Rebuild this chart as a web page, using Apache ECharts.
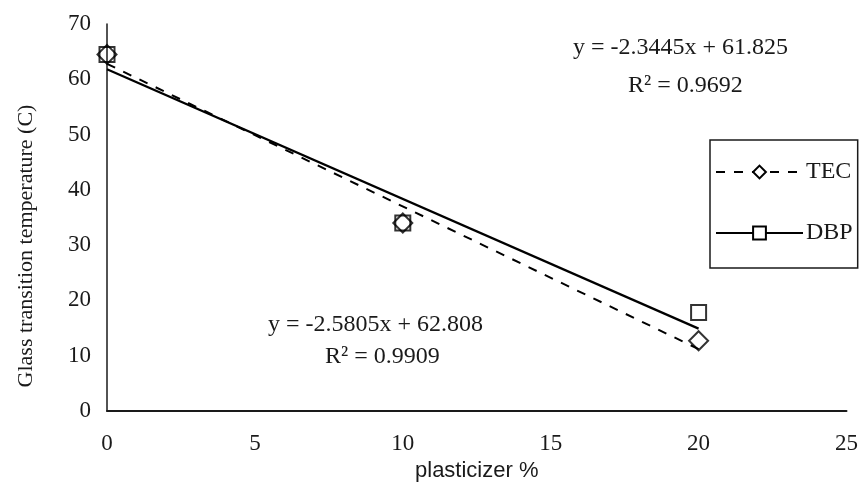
<!DOCTYPE html>
<html>
<head>
<meta charset="utf-8">
<script src="https://cdn.jsdelivr.net/npm/echarts@6/dist/echarts.min.js"></script>
<style>html,body{margin:0;padding:0;background:#fff}#c{width:861px;height:489px}</style>
</head>
<body>
<div id="c"></div>
<script>
// Data
const xValues = [0, 10, 20];
const tecValues = [64.5, 34, 12.7];
const dbpValues = [64.5, 34, 17.8];
const trendX = [0, 20];
const tecTrend = [62.8, 11.2];
const dbpTrend = [61.8, 14.9];
const seriesNames = ['TEC', 'DBP'];
const xTicks = [0, 5, 10, 15, 20, 25];
const yTicks = [0, 10, 20, 30, 40, 50, 60, 70];
const dbpEquation = ['y = -2.3445x + 61.825', 'R² = 0.9692'];
const tecEquation = ['y = -2.5805x + 62.808', 'R² = 0.9909'];
const xTitle = 'plasticizer %';
const yTitle = 'Glass transition temperature (C)';

const pairs = (xs, ys) => xs.map((x, i) => [x, ys[i]]);
const serif = '"Liberation Serif", "DejaVu Serif", serif';
const ink = '#1a1a1a';

const chart = echarts.init(document.getElementById('c'));
chart.setOption({
  animation: false,
  backgroundColor: '#fff',
  grid: { left: 107, right: 14, top: 24, bottom: 78 },
  xAxis: {
    type: 'value', min: xTicks[0], max: xTicks[xTicks.length - 1], interval: 5,
    axisLine: { lineStyle: { color: ink, width: 2 } },
    axisTick: { show: false },
    splitLine: { show: false },
    axisLabel: { color: ink, fontFamily: serif, fontSize: 23, margin: 21 },
    name: xTitle, nameLocation: 'middle', nameGap: 47,
    nameTextStyle: { color: ink, fontFamily: '"Liberation Sans", Arial, sans-serif', fontSize: 22 }
  },
  yAxis: {
    type: 'value', min: yTicks[0], max: yTicks[yTicks.length - 1], interval: 10,
    axisLine: { show: true, lineStyle: { color: ink, width: 1.5 } },
    axisTick: { show: false },
    splitLine: { show: false },
    axisLabel: { color: ink, fontFamily: serif, fontSize: 23, margin: 16 }
  },
  legend: {
    data: seriesNames,
    orient: 'vertical',
    left: 710, top: 140,
    padding: [20, 5, 23, 5],
    itemGap: 37,
    itemWidth: 87, itemHeight: 16,
    borderColor: ink, borderWidth: 1.5,
    textStyle: { color: ink, fontFamily: serif, fontSize: 24, padding: [0, 0, 0, -2] }
  },
  series: [
    {
      name: 'TEC', type: 'line', data: pairs(trendX, tecTrend),
      symbol: 'emptyDiamond', showSymbol: false, symbolSize: 14,
      itemStyle: { color: '#000' },
      lineStyle: { color: '#000', width: 2, type: [9, 9] }
    },
    {
      name: 'DBP', type: 'line', data: pairs(trendX, dbpTrend),
      symbol: 'emptyRect', showSymbol: false, symbolSize: 13,
      itemStyle: { color: '#000' },
      lineStyle: { color: '#000', width: 2.2, type: 'solid' }
    },
    {
      name: 'TEC points', type: 'scatter', data: pairs(xValues, tecValues),
      symbol: 'diamond', symbolSize: 19,
      itemStyle: { color: 'rgba(0,0,0,0)', borderColor: '#000', borderWidth: 2 }
    },
    {
      name: 'DBP points', type: 'scatter', data: pairs(xValues, dbpValues),
      symbol: 'rect', symbolSize: 15,
      itemStyle: { color: 'rgba(0,0,0,0)', borderColor: '#000', borderWidth: 2 }
    }
  ],
  graphic: [
    { type: 'text', left: 573, top: 36, style: { text: dbpEquation[0], fill: ink, font: '24px ' + serif } },
    { type: 'text', left: 628, top: 74, style: { text: dbpEquation[1], fill: ink, font: '24px ' + serif } },
    { type: 'text', left: 268, top: 313, style: { text: tecEquation[0], fill: ink, font: '24px ' + serif } },
    { type: 'text', left: 325, top: 345, style: { text: tecEquation[1], fill: ink, font: '24px ' + serif } },
    { type: 'text', x: 26, y: 246, rotation: Math.PI / 2,
      style: { text: yTitle, fill: ink, font: '22px ' + serif, align: 'center', verticalAlign: 'middle' } }
  ]
});
</script>
</body>
</html>
